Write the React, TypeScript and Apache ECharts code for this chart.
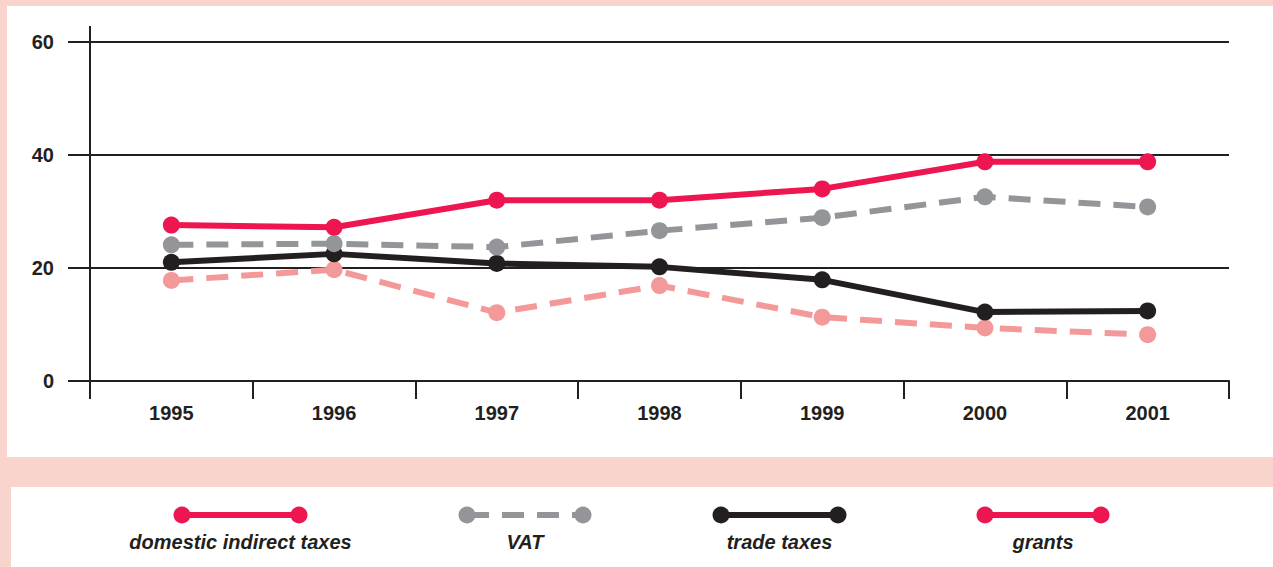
import React, { useEffect, useRef } from "react";
import * as echarts from "echarts";

const years = ["1995", "1996", "1997", "1998", "1999", "2000", "2001"];
const domesticIndirect = [27.6, 27.2, 32.0, 32.0, 34.0, 38.8, 38.8];
const vat = [24.1, 24.3, 23.7, 26.6, 28.9, 32.6, 30.8];
const tradeTaxes = [21.0, 22.5, 20.8, 20.2, 17.9, 12.2, 12.4];
const grants = [17.8, 19.7, 12.1, 16.9, 11.3, 9.4, 8.2];
const yTicks = { min: 0, max: 60, interval: 20 };

const RED = "#ed1651";
const GRAY = "#939598";
const BLACK = "#231f20";
const PINK = "#f4999a";
const BG = "#f9d4cd";
const FONT = "'Liberation Sans', Arial, sans-serif";

const legendItems = [
  { name: "domestic indirect taxes", color: RED, dashed: false, x1: 182, x2: 299 },
  { name: "VAT", color: GRAY, dashed: true, x1: 467, x2: 583 },
  { name: "trade taxes", color: BLACK, dashed: false, x1: 721, x2: 838 },
  { name: "grants", color: RED, dashed: false, x1: 985, x2: 1101 },
];

export default function App() {
  const ref = useRef<HTMLDivElement>(null);
  useEffect(() => {
    if (!ref.current) return;
    const chart = echarts.init(ref.current, null, { renderer: "svg" });
    const mk = (name: string, data: number[], color: string, dashed: boolean) => ({
      name,
      type: "line",
      data,
      symbol: "circle",
      symbolSize: 17,
      showSymbol: true,
      itemStyle: { color },
      lineStyle: {
        color,
        width: 6,
        type: dashed ? [22, 13] : "solid",
      },
      z: 3,
    });
    const legendGraphics: any[] = [];
    legendItems.forEach((it) => {
      legendGraphics.push({
        type: "line",
        shape: { x1: it.x1, y1: 515, x2: it.x2, y2: 515 },
        style: { stroke: it.color, lineWidth: 6, lineDash: it.dashed ? [22, 13] : null },
        z: 10,
      });
      legendGraphics.push({ type: "circle", shape: { cx: it.x1, cy: 515, r: 8.5 }, style: { fill: it.color }, z: 11 });
      legendGraphics.push({ type: "circle", shape: { cx: it.x2, cy: 515, r: 8.5 }, style: { fill: it.color }, z: 11 });
      legendGraphics.push({
        type: "text",
        x: (it.x1 + it.x2) / 2,
        y: 542,
        style: {
          text: it.name,
          fill: BLACK,
          font: `italic bold 20px ${FONT}`,
          align: "center",
          verticalAlign: "middle",
        },
        z: 11,
      });
    });
    chart.setOption({
      animation: false,
      backgroundColor: BG,
      graphic: [
        { type: "rect", shape: { x: 7, y: 6, width: 1266, height: 451 }, style: { fill: "#ffffff" }, z: -10, silent: true },
        { type: "rect", shape: { x: 11, y: 487, width: 1262, height: 80 }, style: { fill: "#ffffff" }, z: -10, silent: true },
        { type: "line", shape: { x1: 90, y1: 26, x2: 90, y2: 42 }, style: { stroke: BLACK, lineWidth: 2 }, z: 5 },
        ...legendGraphics,
      ],
      grid: { left: 90, right: 44, top: 42, bottom: 186, containLabel: false },
      xAxis: {
        type: "category",
        data: years,
        boundaryGap: true,
        axisLine: { lineStyle: { color: BLACK, width: 2 } },
        axisTick: { show: true, length: 18, lineStyle: { color: BLACK, width: 2 } },
        axisLabel: {
          color: BLACK,
          fontSize: 20,
          fontWeight: "bold",
          fontFamily: FONT,
          margin: 22,
        },
        splitLine: { show: false },
      },
      yAxis: {
        type: "value",
        min: yTicks.min,
        max: yTicks.max,
        interval: yTicks.interval,
        axisLine: { show: true, lineStyle: { color: BLACK, width: 2 } },
        axisTick: { show: true, length: 22, lineStyle: { color: BLACK, width: 2 } },
        axisLabel: {
          color: BLACK,
          fontSize: 20,
          fontWeight: "bold",
          fontFamily: FONT,
          margin: 36,
        },
        splitLine: { show: true, lineStyle: { color: BLACK, width: 2 } },
      },
      series: [
        mk("grants", grants, PINK, true),
        mk("trade taxes", tradeTaxes, BLACK, false),
        mk("VAT", vat, GRAY, true),
        mk("domestic indirect taxes", domesticIndirect, RED, false),
      ],
    });
    return () => chart.dispose();
  }, []);
  return (
    <div style={{ position: "fixed", left: 0, top: 0, width: 1273, height: 567, background: BG }}>
      <div ref={ref} style={{ width: 1273, height: 567 }} />
    </div>
  );
}
